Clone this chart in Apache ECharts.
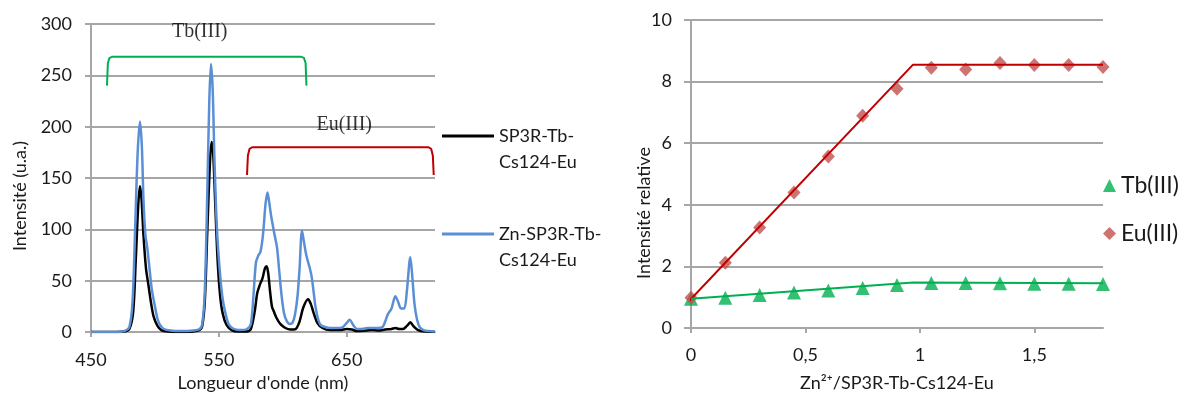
<!DOCTYPE html>
<html><head><meta charset="utf-8">
<script src="https://cdn.jsdelivr.net/npm/echarts@6/dist/echarts.min.js"></script>
<style>html,body{margin:0;padding:0;background:#fff}#c{width:1187px;height:397px}</style>
</head><body><div id="c"></div>
<script>
// ---- Left chart: emission spectra ----
const blackName = 'SP3R-Tb-Cs124-Eu';
const blueName = 'Zn-SP3R-Tb-Cs124-Eu';
const blackWl = [450,470,476,480,483,485,487,488.3,489.5,491,493,495,497,499,502,505,510,520,530,535,537,539,541,543,544.3,545.5,547,549,551,553,556,560,565,572,575,578,580,582,584,586,587.3,588.5,590,591.5,593,595,598,602,606,610,613,616,619.8,622,624,627,631,637,645,650,654,658,665,670,675,680,685,688,691,694,697,699.7,702,705,708,712,719];
const blackInt = [0,0,0.5,3,20,70,125,142,130,95,62,45,28,15,6,2,0.5,0,0.5,2,6,30,100,165,185,175,130,70,35,18,7,2,0.5,0.5,3,20,38,46,52,62,64,58,40,25,20,14,8,4,2.5,3,10,24,32,27,19,9,4,2,2,3,2.5,1,1.5,2,1.5,2.5,3,4,3,3,6,9.5,6,2.5,1,0.5,0];
const blueWl = [450,470,476,480,482.5,484.5,486.5,488.3,489.8,491,492.5,494,495.5,497.5,500,502,504,507,512,520,530,535,537,539,541,542.5,543.8,545.2,546.5,548.5,550.8,553,556,558,561,566,572,575,577,579,581,582.5,584.5,586.5,588,589.5,591,593.5,595.5,597,599,601,603,605.5,607.5,609.5,611.5,613,615,616.5,618.5,620.5,622.4,624,625.5,627.5,629.5,633,637,643,647,650,652.3,655,658,662,666,670,674,678,680,682,685,688,690,692.5,695,697,699.7,701.5,703,705,707,710,714,719];
const blueInt = [0,0,1,5,30,100,175,205,180,130,95,82,65,42,25,13,7,3,1.5,1,1.5,3,8,40,140,225,261,235,170,100,58,32,14,7,3.5,2,3,8,35,68,75,78,95,125,136,125,112,95,82,62,36,18,11,8,9,17,35,60,99,88,74,65,55,40,25,13,7,5,4,4,5,9,12,7,3,3,4,4,4,5,10,17,23,35,30,23,23,40,73,50,27,12,5,2,1,0.5];
const tbBracketWl = [462.5,463.2,464.5,466.5,614.5,616.5,617.8,618.5];
const tbBracketY  = [240,262,267,268,268,267,262,240];
const euBracketWl = [572,572.7,574,576,714,716,717.3,718];
const euBracketY  = [153,172,178.5,180,180,178.5,172,153];
const annotLabels = ['Tb(III)','Eu(III)'];
const annotWl = [535,648];
const annotY = [292,202];

// ---- Right chart: relative intensity ----
const ratio = [0,0.15,0.3,0.45,0.6,0.75,0.9,1.05,1.2,1.35,1.5,1.65,1.8];
const tbRel = [0.95,0.98,1.07,1.15,1.22,1.3,1.4,1.46,1.46,1.45,1.44,1.44,1.43];
const euRel = [0.98,2.12,3.26,4.4,5.57,6.89,7.77,8.45,8.39,8.6,8.54,8.54,8.47];
const euTrendX = [-0.027,0.97,1.8];
const euTrendY = [0.73,8.55,8.55];
const tbTrendX = [0,0.97,1.8];
const tbTrendY = [0.95,1.48,1.45];

const pairs = (xs, ys) => xs.map((x,i)=>[x, ys[i]]);
const F = 'Lato, "Open Sans", sans-serif';
const TXT = '#1a1a1a';
const GRID_C = '#a6a6a6';

const chart = echarts.init(document.getElementById('c'), null, {renderer:'canvas'});
chart.setOption({
  animation:false,
  backgroundColor:'#fff',
  grid:[
    {left:91, right:1187-435, top:24, bottom:397-342, containLabel:false},
    {left:691, right:1187-1103, top:20, bottom:397-332.5, containLabel:false}
  ],
  xAxis:[
    {type:'value', gridIndex:0, min:450, max:719, interval:100,
     axisLine:{show:true, lineStyle:{color:GRID_C, width:2}},
     axisTick:{show:true, length:5, lineStyle:{color:GRID_C, width:2}},
     splitLine:{show:false},
     axisLabel:{color:TXT, fontFamily:F, fontSize:18, margin:19, showMaxLabel:false},
     name:"Longueur d'onde (nm)", nameLocation:'middle', nameGap:37,
     nameTextStyle:{color:TXT, fontFamily:F, fontSize:18}},
    {type:'value', gridIndex:1, min:0, max:1.8, interval:0.5,
     axisLine:{show:true, lineStyle:{color:GRID_C, width:2}},
     axisTick:{show:true, length:5, lineStyle:{color:GRID_C, width:2}},
     splitLine:{show:false},
     axisLabel:{color:TXT, fontFamily:F, fontSize:18, margin:18, showMaxLabel:false,
       formatter:v=>String(Math.round(v*10)/10).replace('.',',')},
     name:'Zn²⁺/SP3R-Tb-Cs124-Eu', nameLocation:'middle', nameGap:46,
     nameTextStyle:{color:TXT, fontFamily:F, fontSize:18}}
  ],
  yAxis:[
    {type:'value', gridIndex:0, min:0, max:300, interval:50,
     axisLine:{show:true, lineStyle:{color:GRID_C, width:2}},
     axisTick:{show:true, length:6, lineStyle:{color:GRID_C, width:2}},
     splitLine:{show:true, lineStyle:{color:GRID_C, width:2}},
     axisLabel:{color:TXT, fontFamily:F, fontSize:18, margin:19}},
    {type:'value', gridIndex:1, min:0, max:10, interval:2,
     axisLine:{show:true, lineStyle:{color:GRID_C, width:2}},
     axisTick:{show:true, length:7, lineStyle:{color:GRID_C, width:2}},
     splitLine:{show:true, lineStyle:{color:GRID_C, width:2}},
     axisLabel:{color:TXT, fontFamily:F, fontSize:18, margin:19}}
  ],
  legend:[
    {data:[blackName], left:442, top:97, orient:'vertical', padding:0, selectedMode:false,
     icon:'rect', itemWidth:52, itemHeight:3,
     formatter:n=>'\n'+n.replace('Tb-','Tb-\n'),
     textStyle:{color:TXT, fontFamily:F, fontSize:18, lineHeight:26}},
    {data:[blueName], left:442, top:195, orient:'vertical', padding:0, selectedMode:false,
     icon:'rect', itemWidth:52, itemHeight:3,
     formatter:n=>'\n'+n.replace('Tb-','Tb-\n'),
     textStyle:{color:TXT, fontFamily:F, fontSize:18, lineHeight:26}},
    {data:[{name:'Tb(III)', icon:'triangle'},{name:'Eu(III)', icon:'diamond'}],
     left:1103, top:174, orient:'vertical', padding:0, itemGap:25, selectedMode:false,
     itemWidth:13, itemHeight:13,
     textStyle:{color:TXT, fontFamily:F, fontSize:23}}
  ],
  graphic:[
    {type:'text', x:20, y:196, rotation:Math.PI/2,
     style:{text:'Intensité (u.a.)', fill:TXT, font:'18px '+F, align:'center', verticalAlign:'middle'}},
    {type:'text', x:644, y:213, rotation:Math.PI/2,
     style:{text:'Intensité relative', fill:TXT, font:'18px '+F, align:'center', verticalAlign:'middle'}}
  ],
  series:[
    {name:blackName, type:'line', xAxisIndex:0, yAxisIndex:0, data:pairs(blackWl,blackInt),
     color:'#000', showSymbol:false, smooth:0.3, lineStyle:{color:'#000', width:2.5}, z:3},
    {name:blueName, type:'line', xAxisIndex:0, yAxisIndex:0, data:pairs(blueWl,blueInt),
     color:'#5a8fd6', showSymbol:false, smooth:0.3, lineStyle:{color:'#5a8fd6', width:2.5}, z:4},
    {name:'tbBracket', type:'line', xAxisIndex:0, yAxisIndex:0, data:pairs(tbBracketWl,tbBracketY),
     showSymbol:false, clip:false, lineStyle:{color:'#00b050', width:2}, z:5},
    {name:'euBracket', type:'line', xAxisIndex:0, yAxisIndex:0, data:pairs(euBracketWl,euBracketY),
     showSymbol:false, clip:false, lineStyle:{color:'#c00000', width:2}, z:5},
    {name:'annot', type:'scatter', xAxisIndex:0, yAxisIndex:0, symbolSize:0,
     data:annotLabels.map((t,i)=>({value:[annotWl[i],annotY[i]], name:t})),
     label:{show:true, position:'inside', formatter:p=>p.name, color:'#000',
       fontFamily:'"Liberation Serif", "Times New Roman", serif', fontSize:20}, z:6},
    {name:'euTrend', type:'line', xAxisIndex:1, yAxisIndex:1, data:pairs(euTrendX,euTrendY),
     showSymbol:false, clip:false, lineStyle:{color:'#c00000', width:2}, z:4},
    {name:'tbTrend', type:'line', xAxisIndex:1, yAxisIndex:1, data:pairs(tbTrendX,tbTrendY),
     showSymbol:false, clip:false, lineStyle:{color:'#00b050', width:2}, z:4},
    {name:'Tb(III)', type:'scatter', xAxisIndex:1, yAxisIndex:1, data:pairs(ratio,tbRel),
     symbol:'triangle', symbolSize:14, color:'#00b050', itemStyle:{color:'#00b050'}, z:3},
    {name:'Eu(III)', type:'scatter', xAxisIndex:1, yAxisIndex:1, data:pairs(ratio,euRel),
     symbol:'diamond', symbolSize:[13,14], color:'#c0504d', itemStyle:{color:'#c0504d'}, z:3}
  ]
});
</script></body></html>
